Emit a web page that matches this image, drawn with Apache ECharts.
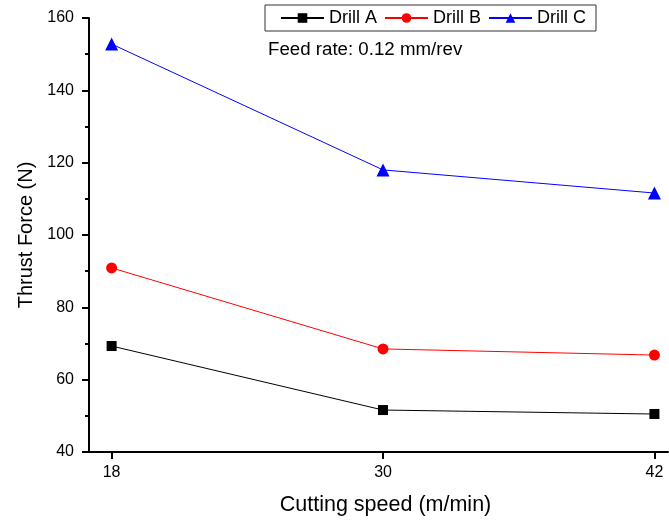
<!DOCTYPE html>
<html><head><meta charset="utf-8">
<script src="https://cdn.jsdelivr.net/npm/echarts@6/dist/echarts.min.js"></script>
<style>html,body{margin:0;padding:0;background:#fff}#c{width:669px;height:522px}</style>
</head><body><div id="c"></div>
<script>
const speeds = [18, 30, 42];
const drillA = [69.3, 51.6, 50.5];
const drillB = [90.9, 68.5, 66.8];
const drillC = [152.8, 118.0, 111.6];
const xTicks = [18, 30, 42];
const seriesNames = ['Drill A', 'Drill B', 'Drill C'];

const F = 'Liberation Sans, Arial, sans-serif';
const chart = echarts.init(document.getElementById('c'));
function pts(v){ return speeds.map((s,i)=>[s, v[i]]); }
chart.setOption({
  animation:false,
  grid:{left:89, right:1, top:18, bottom:70},
  legend:{
    left:265, top:5, itemGap:7, itemWidth:43, itemHeight:12,
    borderColor:'#333', borderWidth:1, padding:[4,10,4,15],
    textStyle:{fontFamily:F, fontSize:18, color:'#000'},
    data:seriesNames
  },
  graphic:[{type:'text', left:268, top:40, style:{text:'Feed rate: 0.12 mm/rev', font:'18.7px '+F, fill:'#000'}}],
  xAxis:{
    type:'value', min:17, max:42.6,
    name:'Cutting speed (m/min)', nameLocation:'middle', nameGap:42,
    nameTextStyle:{fontFamily:F, fontSize:21.5, color:'#000', padding:[0,0,0,14]},
    axisLine:{onZero:false, lineStyle:{color:'#000', width:2}},
    axisTick:{show:true, customValues:xTicks, length:7, lineStyle:{color:'#000', width:2}},
    axisLabel:{customValues:xTicks, fontFamily:F, fontSize:16, color:'#000', margin:13},
    splitLine:{show:false}
  },
  yAxis:{
    type:'value', min:40, max:160, interval:20,
    name:'Thrust Force (N)', nameLocation:'middle', nameGap:53,
    nameTextStyle:{fontFamily:F, fontSize:20, color:'#000'},
    axisLine:{show:true, lineStyle:{color:'#000', width:2}},
    axisTick:{show:true, length:7, lineStyle:{color:'#000', width:2}},
    minorTick:{show:true, splitNumber:2, length:4, lineStyle:{color:'#000', width:2}},
    axisLabel:{fontFamily:F, fontSize:16, color:'#000', margin:15},
    splitLine:{show:false}
  },
  series:[
    {name:seriesNames[0], type:'line', data:pts(drillA), symbol:'rect', symbolSize:10, color:'#000', lineStyle:{width:1}},
    {name:seriesNames[1], type:'line', data:pts(drillB), symbol:'circle', symbolSize:11, color:'#ff0000', lineStyle:{width:1}},
    {name:seriesNames[2], type:'line', data:pts(drillC), symbol:'triangle', symbolSize:13, color:'#0000ff', lineStyle:{width:1}}
  ]
});
</script></body></html>
